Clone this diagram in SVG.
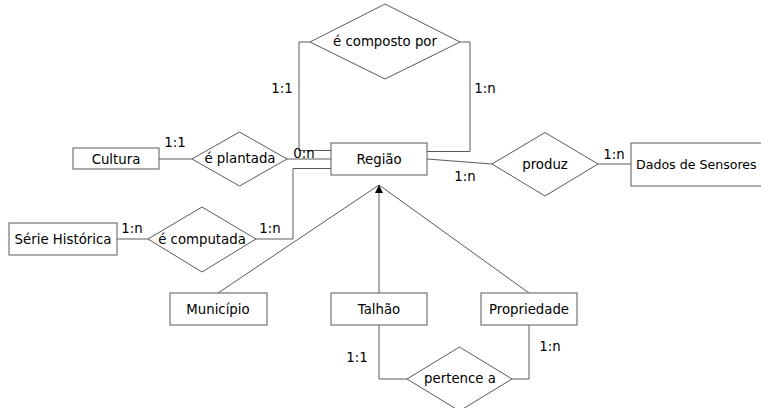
<svg xmlns="http://www.w3.org/2000/svg" width="761" height="408" viewBox="0 0 761 408">
<style>
.e{fill:#fff;stroke:#5a5a5a;stroke-width:1}
.r{fill:#fff;stroke:#5a5a5a;stroke-width:1}
.c{fill:none;stroke:#5a5a5a;stroke-width:1}
text{font-family:"DejaVu Sans","Liberation Sans",sans-serif;font-size:13.3px;fill:#000}
.m{text-anchor:middle}
</style>
<defs>
<marker id="tri" markerWidth="10" markerHeight="10" refX="8" refY="4" orient="auto" markerUnits="userSpaceOnUse">
<path d="M0,0 L8,4 L0,8 Z" fill="#000"/>
</marker>
</defs>
<rect width="761" height="408" fill="#fff"/>
<g id="connectors">
<polyline class="c" points="310,42 299,42 299,150.5 331,150.5"/>
<polyline class="c" points="460,42 470,42 470,151.5 427,151.5"/>
<line class="c" x1="427" y1="159" x2="492" y2="164"/>
<line class="c" x1="598" y1="164" x2="631" y2="164"/>
<line class="c" x1="159" y1="159" x2="192" y2="159"/>
<line class="c" x1="287" y1="159" x2="331" y2="159"/>
<line class="c" x1="117" y1="239" x2="148" y2="239"/>
<polyline class="c" points="256,239 293,239 293,168.5 331,168.5"/>
<line class="c" x1="218" y1="293" x2="379" y2="185"/>
<line class="c" x1="529" y1="293" x2="379" y2="185"/>
<line class="c" x1="379" y1="293" x2="379" y2="185" marker-end="url(#tri)"/>
<polyline class="c" points="379,325 379,379 407,379"/>
<polyline class="c" points="529,325 529,379 512,379"/>
<text x="282" y="93" class="m">1:1</text>
<text x="485" y="93" class="m">1:n</text>
<text x="304" y="158" class="m">0:n</text>
<text x="175" y="147" class="m">1:1</text>
<text x="465" y="181" class="m">1:n</text>
<text x="614" y="159" class="m">1:n</text>
<text x="132" y="233" class="m">1:n</text>
<text x="270" y="233" class="m">1:n</text>
<text x="357" y="362" class="m">1:1</text>
<text x="550" y="351" class="m">1:n</text>
</g>
<g id="regiao"><rect class="r" x="331" y="143" width="96" height="32"/><text x="379" y="164" class="m">Região</text></g>
<g id="composto"><polygon class="e" points="310,42 385,4 460,42 385,79"/><text x="385" y="46" class="m">é composto por</text></g>
<g id="cultura"><rect class="r" x="73" y="148" width="86" height="21"/><text x="116" y="164" class="m">Cultura</text></g>
<g id="plantada"><polygon class="e" points="192,159 239.5,132 287,159 239.5,186"/><text x="240" y="163" class="m">é plantada</text></g>
<g id="serie"><rect class="r" x="9" y="223" width="108" height="32"/><text x="63" y="244" class="m">Série Histórica</text></g>
<g id="computada"><polygon class="e" points="148,239 202,207 256,239 202,272"/><text x="202" y="244" class="m">é computada</text></g>
<g id="produz"><polygon class="e" points="492,164 545,132.5 598,164 545,196"/><text x="545" y="169" class="m">produz</text></g>
<g id="dados"><rect class="r" x="631" y="143" width="140" height="43"/><text x="636" y="169" style="font-size:12.6px">Dados de Sensores</text></g>
<g id="municipio"><rect class="r" x="170" y="293" width="97" height="32"/><text x="218" y="314" class="m">Município</text></g>
<g id="talhao"><rect class="r" x="331" y="293" width="96" height="32"/><text x="379" y="314" class="m">Talhão</text></g>
<g id="propriedade"><rect class="r" x="481" y="293" width="96" height="32"/><text x="529" y="314" class="m">Propriedade</text></g>
<g id="pertence"><polygon class="e" points="407,379 459.5,347 512,379 459.5,411"/><text x="460" y="383" class="m">pertence a</text></g>
</svg>
